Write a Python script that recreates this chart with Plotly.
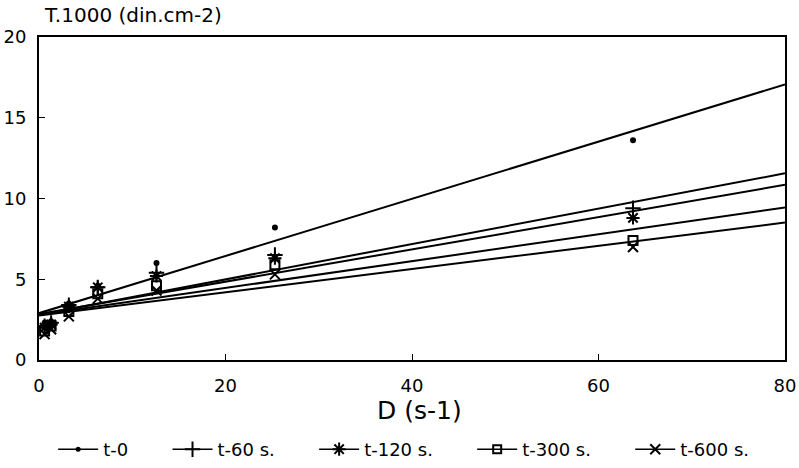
import plotly.graph_objects as go

# Data
shear_rate = [0.6, 1.3, 3.2, 6.3, 12.6, 25.3, 63.7]
series_names = ["t-0", "t-60 s.", "t-120 s.", "t-300 s.", "t-600 s."]
t0 = [2.3, 2.4, 3.5, 4.6, 6.0, 8.2, 13.6]
t60 = [2.1, 2.3, 3.4, 4.5, 5.4, 6.5, 9.4]
t120 = [2.0, 2.2, 3.3, 4.5, 5.2, 6.3, 8.8]
t300 = [1.8, 2.1, 3.0, 4.1, 4.6, 5.9, 7.4]
t600 = [1.6, 1.9, 2.7, 3.8, 4.3, 5.3, 7.0]
fit_intercepts = [2.9, 2.8, 2.85, 2.8, 2.75]
fit_slopes = [0.177, 0.1095, 0.100, 0.083, 0.072]
line_x = [0, 80]

series_values = [t0, t60, t120, t300, t600]
symbols = ["circle", "cross-thin", "asterisk", "square-open", "x-thin"]
sizes = [4, 11, 11, 9, 10]
legend_sizes = [3, 11, 11, 8, 10]

FONT = "DejaVu Sans, Liberation Sans, Arial, sans-serif"
PAD = "\u00a0" * 6
fig = go.Figure()

n = len(series_names)
for i, (name, vals, sym, sz, lsz, a, b) in enumerate(
        zip(series_names, series_values, symbols, sizes, legend_sizes,
            fit_intercepts, fit_slopes)):
    marker = dict(symbol=sym, size=sz, color="black",
                  line=dict(color="black", width=2))
    fig.add_trace(go.Scatter(x=shear_rate, y=vals, mode="markers",
                             marker=marker, showlegend=False))
    fig.add_trace(go.Scatter(x=line_x, y=[a + b * xv for xv in line_x],
                             mode="lines", line=dict(color="black", width=2),
                             showlegend=False))
    fig.add_trace(go.Scatter(x=[None], y=[None], mode="lines+markers",
                             name=name + (PAD if i < n - 1 else ""),
                             marker=dict(symbol=sym, size=lsz, color="black",
                                         line=dict(color="black", width=2)),
                             line=dict(color="black", width=1.5)))

fig.update_layout(
    width=799, height=468,
    margin=dict(l=39, r=14, t=37, b=108),
    paper_bgcolor="white", plot_bgcolor="white",
    font=dict(family=FONT, size=16, color="black"),
    legend=dict(orientation="h", x=0.019, xanchor="left",
                yref="container", y=-0.014, yanchor="bottom",
                font=dict(size=18), itemwidth=40, tracegroupgap=0),
    annotations=[dict(text="T.1000 (din.cm-2)", x=0.004, y=1.068, xref="paper",
                      yref="paper", showarrow=False, xanchor="left",
                      yanchor="middle", font=dict(size=20)),
                 dict(text="D (s-1)", x=0.51, y=-0.155, xref="paper",
                      yref="paper", showarrow=False, xanchor="center",
                      yanchor="middle", font=dict(size=25))],
)
fig.update_xaxes(range=[0, 80], tickvals=[0, 20, 40, 60, 80],
                 showline=True, linecolor="black", linewidth=2, mirror=True,
                 ticks="inside", ticklen=6, tickcolor="black", showgrid=False,
                 zeroline=False, tickfont=dict(size=18), automargin=False,
                 ticklabelstandoff=8)
fig.update_yaxes(range=[0, 20], tickvals=[0, 5, 10, 15, 20],
                 showline=True, linecolor="black", linewidth=2, mirror=True,
                 ticks="inside", ticklen=6, tickcolor="black", showgrid=False,
                 zeroline=False, tickfont=dict(size=18), automargin=False,
                 ticklabelstandoff=7)

fig.write_html("out.html", config={"displayModeBar": False},
               post_script="document.body.style.margin='0';")
